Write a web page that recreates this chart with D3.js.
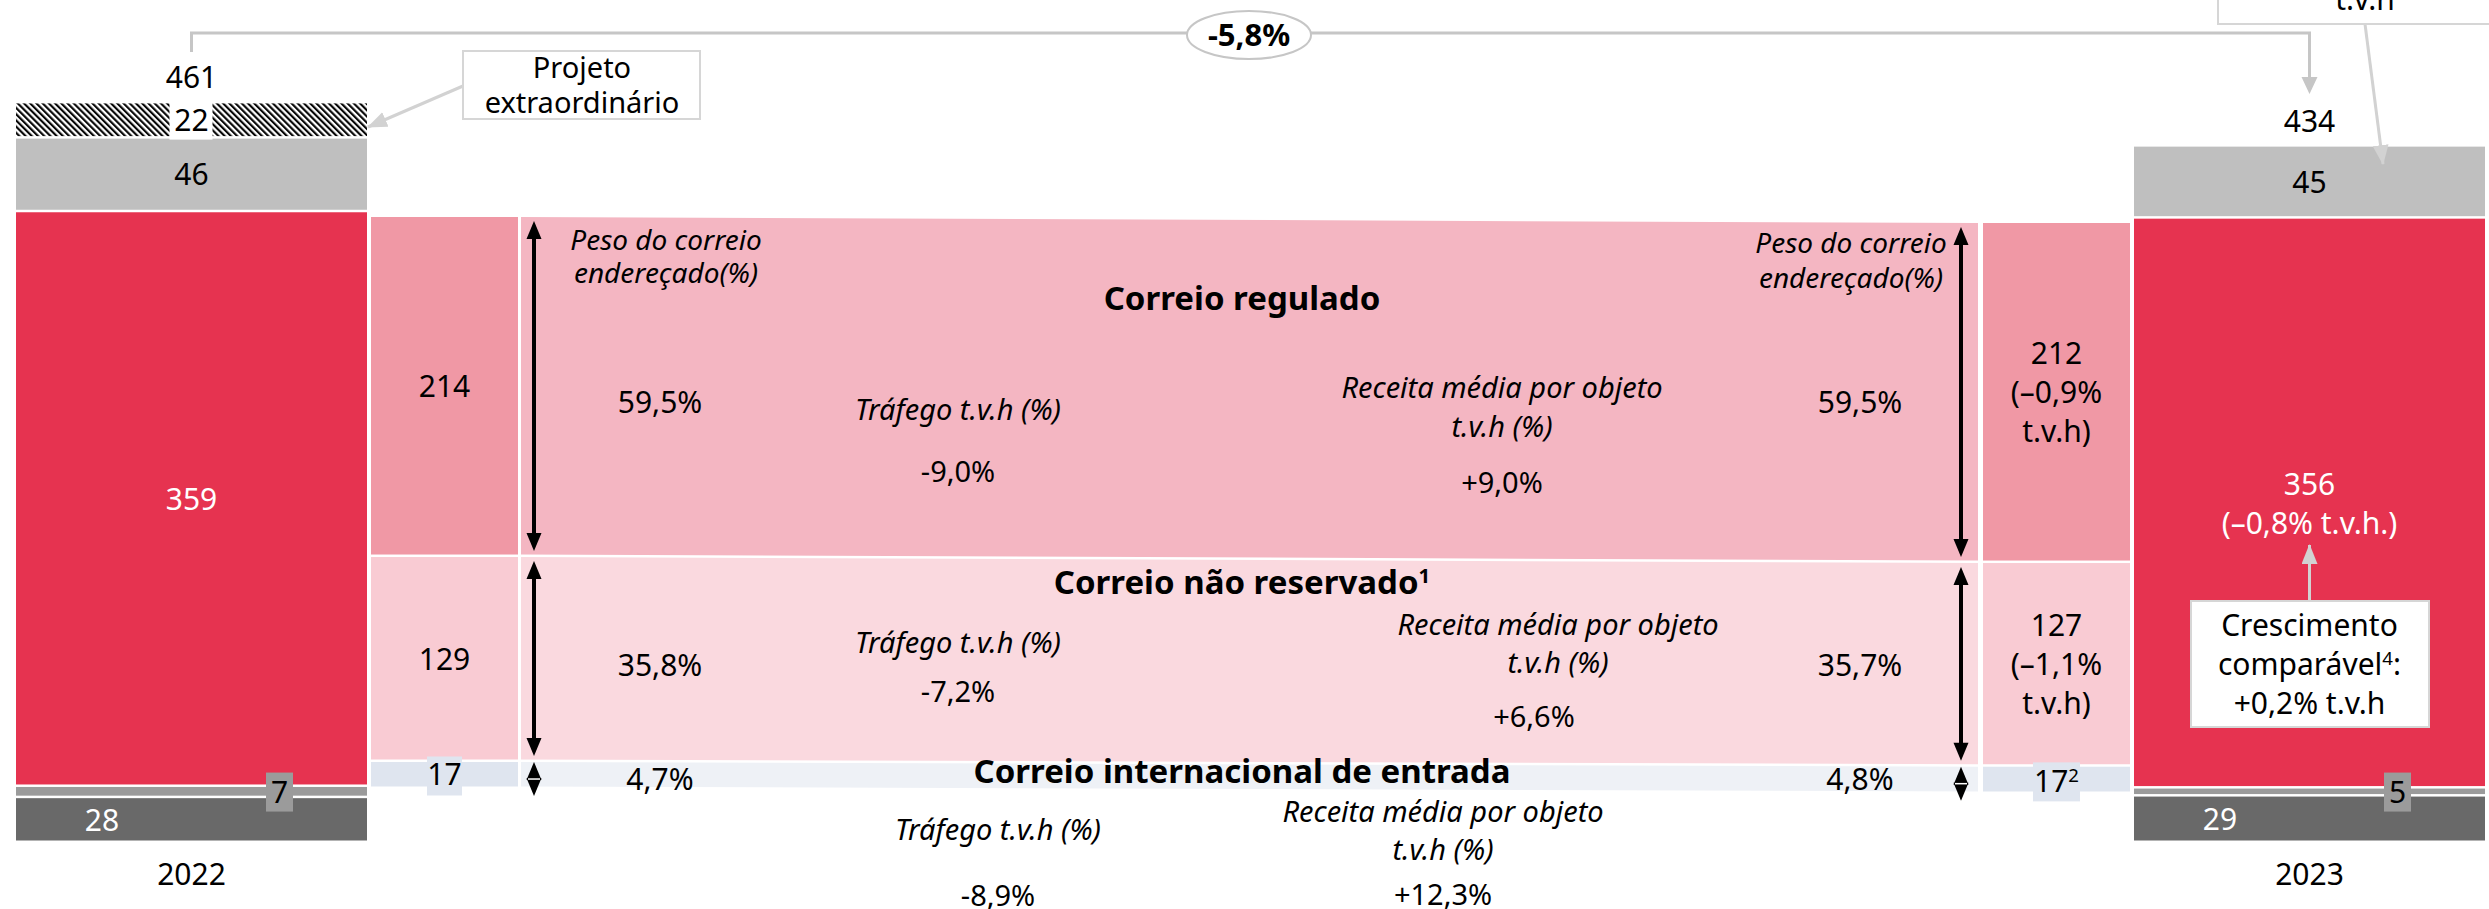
<!DOCTYPE html>
<html>
<head>
<meta charset="utf-8">
<script src="https://cdn.jsdelivr.net/npm/d3@7"></script>
<style>
  body { margin: 0; background: #fff; }
  svg { display: block; font-family: 'Noto Sans', 'Open Sans', sans-serif; }
</style>
</head>
<body>
<svg id="chart"></svg>
<script>
// values
var years = ["2022", "2023"];
var totals = [461, 434];
var totalChange = "-5,8%";

// stacks, bottom to top
var segNames = ["Outros", "Outros 2", "Correio", "Expresso", "Projeto extraordinário"];
var seg2022 = [28, 7, 359, 46, 22];
var seg2023 = [29, 5, 356, 45, 0];
var correio2023Change = "(–0,8% t.v.h.)";
var comparableGrowth = ["Crescimento", "comparável", "+0,2% t.v.h"];

// mail breakdown, bottom to top
var mailCats = ["Correio internacional de entrada", "Correio não reservado", "Correio regulado"];
var mailNotes = ["", "1", ""];
var mail2022 = [17, 129, 214];
var mail2023 = [17, 127, 212];
var mail2023Notes = ["2", "", ""];
var mail2023Change = ["", "–1,1%", "–0,9%"];
var weight2022 = ["4,7%", "35,8%", "59,5%"];
var weight2023 = ["4,8%", "35,7%", "59,5%"];
var traffic = ["-8,9%", "-7,2%", "-9,0%"];
var revenue = ["+12,3%", "+6,6%", "+9,0%"];

var W = 2489, H = 909;
var svg = d3.select("#chart").attr("width", W).attr("height", H);
var defs = svg.append("defs");

// layout
var stackX = { "2022": [16, 367], "2023": [2134, 2485] };
var colL = [371, 518], band = [521, 1978], colR = [1983, 2130];
var gap = 2.5;
var segFill = ["#696969", "#9b9b9b", "#e63350", "#bfbfbf", "url(#hatch)"];
var segText = ["#fff", "#000", "#fff", "#000", "#000"];
var colFill = ["#dfe5ef", "#f9cbd3", "#f098a5"];
var bandFill = ["#eef1f6", "#fad9df", "#f4b6c2"];
var lineGray = "#c6c6c6", boxGray = "#d6d6d6";

var y = d3.scaleLinear().domain([0, totals[0]]).range([842, 104]);
var yL = d3.scaleLinear().domain([0, d3.sum(mail2022)]).range([788, 216]);
var yR = d3.scaleLinear().domain([0, d3.sum(mail2023)]).range([793, 222]);
var bt = d3.scaleLinear().domain(band).range([0, 1]);

// patterns / markers
var pat = defs.append("pattern").attr("id", "hatch").attr("patternUnits", "userSpaceOnUse")
  .attr("width", 4.4).attr("height", 4.4).attr("patternTransform", "rotate(-45)");
pat.append("rect").attr("width", 4.4).attr("height", 4.4).attr("fill", "#fff");
pat.append("line").attr("x1", 1.1).attr("x2", 1.1).attr("y1", 0).attr("y2", 4.4)
  .attr("stroke", "#000").attr("stroke-width", 2.1);

defs.append("marker").attr("id", "tip").attr("markerUnits", "userSpaceOnUse")
  .attr("markerWidth", 20).attr("markerHeight", 16).attr("refX", 19).attr("refY", 8)
  .attr("orient", "auto")
  .append("path").attr("d", "M0,0 L20,8 L0,16 Z").attr("fill", "#d2d2d2");

function stackSegs(vals) {
  var c = d3.cumsum(vals);
  return vals.map(function (v, i) { return { i: i, v: v, y0: c[i] - v, y1: c[i] } });
}

function txt(g, x, yb, s, size, opts) {
  opts = opts || {};
  return g.append("text").attr("x", x).attr("y", yb)
    .attr("text-anchor", opts.anchor || "middle")
    .attr("font-size", size)
    .attr("font-style", opts.italic ? "italic" : null)
    .attr("font-weight", opts.bold ? "bold" : null)
    .attr("fill", opts.fill || "#000")
    .text(s);
}

function sup(t, s) {
  t.append("tspan").attr("font-size", "0.62em").attr("dy", "-0.55em").text(s);
}

// ---------- outer stacks ----------
var gStack = svg.append("g");
years.forEach(function (yr, k) {
  var vals = k === 0 ? seg2022 : seg2023;
  var xr = stackX[yr];
  var cx = (xr[0] + xr[1]) / 2;
  var segs = stackSegs(vals).filter(function (d) { return d.v > 0 });

  gStack.append("g").selectAll("rect").data(segs).join("rect")
    .attr("x", xr[0]).attr("width", xr[1] - xr[0])
    .attr("y", function (d) { return y(d.y1) + 1 })
    .attr("height", function (d) { return y(d.y0) - y(d.y1) - gap })
    .attr("fill", function (d) { return segFill[d.i] });

  segs.forEach(function (d) {
    var mid = (y(d.y0) + y(d.y1)) / 2;
    if (d.i === 0) {
      txt(gStack, xr[0] + 86, mid + 11, d.v, 30, { fill: segText[0] });
    } else if (d.i === 1) {
      gStack.append("rect").attr("x", xr[0] + 250).attr("y", mid - 19)
        .attr("width", 27).attr("height", 39).attr("fill", "#9b9b9b");
      txt(gStack, xr[0] + 263.5, mid + 11, d.v, 30);
    } else if (d.i === 2) {
      if (k === 0) {
        txt(gStack, cx, mid + 11, d.v, 30, { fill: "#fff" });
      } else {
        txt(gStack, cx, mid - 8, d.v, 30, { fill: "#fff" });
        txt(gStack, cx, mid + 31, correio2023Change, 30, { fill: "#fff" });
      }
    } else if (d.i === 3) {
      txt(gStack, cx, mid + 11, d.v, 30);
    } else {
      gStack.append("rect").attr("x", cx - 22).attr("y", y(d.y1))
        .attr("width", 43).attr("height", y(d.y0) - y(d.y1) + 2).attr("fill", "#fff");
      txt(gStack, cx, mid + 11, d.v, 30);
    }
  });

  var top = y(d3.sum(vals));
  txt(gStack, cx, top - 14, totals[k], 30);
  txt(gStack, cx, 885, yr, 30);
});

// ---------- mail breakdown ----------
var gMid = svg.append("g");
var segL = stackSegs(mail2022), segR = stackSegs(mail2023);

gMid.selectAll("polygon").data(segL).join("polygon")
  .attr("fill", function (d) { return bandFill[d.i] })
  .attr("points", function (d) {
    var r = segR[d.i];
    return [[band[0], yL(d.y1) + 1], [band[1], yR(r.y1) + 1],
            [band[1], yR(r.y0) - gap + 1], [band[0], yL(d.y0) - gap + 1]].join(" ");
  });

gMid.append("g").selectAll("rect").data(segL).join("rect")
  .attr("x", colL[0]).attr("width", colL[1] - colL[0])
  .attr("y", function (d) { return yL(d.y1) + 1 })
  .attr("height", function (d) { return yL(d.y0) - yL(d.y1) - gap })
  .attr("fill", function (d) { return colFill[d.i] });

gMid.append("g").selectAll("rect").data(segR).join("rect")
  .attr("x", colR[0]).attr("width", colR[1] - colR[0])
  .attr("y", function (d) { return yR(d.y1) + 1 })
  .attr("height", function (d) { return yR(d.y0) - yR(d.y1) - gap })
  .attr("fill", function (d) { return colFill[d.i] });

var cL = (colL[0] + colL[1]) / 2, cR = (colR[0] + colR[1]) / 2;
segL.forEach(function (d) {
  var mid = (yL(d.y0) + yL(d.y1)) / 2;
  if (d.i === 0) {
    gMid.append("rect").attr("x", cL - 17.5).attr("y", mid - 18).attr("width", 35).attr("height", 39)
      .attr("fill", colFill[0]);
  }
  txt(gMid, cL, mid + 11, d.v, 30);
});
segR.forEach(function (d) {
  var mid = (yR(d.y0) + yR(d.y1)) / 2;
  if (d.i === 0) {
    gMid.append("rect").attr("x", cR - 23.5).attr("y", mid - 17).attr("width", 47).attr("height", 39)
      .attr("fill", colFill[0]);
    sup(txt(gMid, cR, mid + 13, d.v, 30), mail2023Notes[0]);
  } else {
    txt(gMid, cR, mid - 28, d.v, 30);
    txt(gMid, cR, mid + 11, "(" + mail2023Change[d.i], 30);
    txt(gMid, cR, mid + 50, "t.v.h)", 30);
  }
});

// double arrows
function edgeAt(x, d) {
  var r = segR[d.i], t = bt(x);
  return {
    top: yL(d.y1) + (yR(r.y1) - yL(d.y1)) * t,
    bot: yL(d.y0) + (yR(r.y0) - yL(d.y0)) * t
  };
}
function head(x, tipY, dir) {
  gMid.append("path").attr("fill", "#000")
    .attr("d", "M" + x + "," + tipY + " L" + (x + 7.5) + "," + (tipY + dir * 18) + " L" + (x - 7.5) + "," + (tipY + dir * 18) + " Z");
}
[534, 1961].forEach(function (ax) {
  segL.forEach(function (d) {
    var e = edgeAt(ax, d);
    if (d.i === 0) {
      head(ax, e.top + 1, 1);
      head(ax, e.top + 35, -1);
      gMid.append("line").attr("x1", ax - 6).attr("x2", ax + 6).attr("y1", e.top + 18).attr("y2", e.top + 18)
        .attr("stroke", "#fff").attr("stroke-width", 1.5);
    } else {
      var t0 = e.top + 5, t1 = e.bot - 5;
      gMid.append("line").attr("x1", ax).attr("x2", ax).attr("y1", t0 + 14).attr("y2", t1 - 14)
        .attr("stroke", "#000").attr("stroke-width", 4);
      head(ax, t0, 1);
      head(ax, t1, -1);
    }
  });
});

// texts inside the bands
var bandText = [
  { title: 783, w: 790, trafX: 998, trafY: [840, 906], revX: 1443, revY: [822, 860, 905], revValX: 1443 },
  { title: 594, w: 676, trafX: 958, trafY: [653, 702], revX: 1558, revY: [635, 673, 727], revValX: 1534 },
  { title: 310, w: 413, trafX: 958, trafY: [420, 482], revX: 1502, revY: [398, 437, 493], revValX: 1502 }
];
bandText.forEach(function (b, i) {
  var t = txt(gMid, 1242, b.title, mailCats[i], 33, { bold: true });
  if (mailNotes[i]) sup(t, mailNotes[i]);
  txt(gMid, 660, b.w, weight2022[i], 30);
  txt(gMid, 1860, b.w, weight2023[i], 30);
  txt(gMid, b.trafX, b.trafY[0], "Tráfego t.v.h (%)", 29, { italic: true });
  txt(gMid, b.trafX, b.trafY[1], traffic[i], 29);
  txt(gMid, b.revX, b.revY[0], "Receita média por objeto", 29, { italic: true });
  txt(gMid, b.revX, b.revY[1], "t.v.h (%)", 29, { italic: true });
  txt(gMid, b.revValX, b.revY[2], revenue[i], 29);
});
txt(gMid, 666, 250, "Peso do correio", 28, { italic: true });
txt(gMid, 666, 283, "endereçado(%)", 28, { italic: true });
txt(gMid, 1851, 253, "Peso do correio", 28, { italic: true });
txt(gMid, 1851, 288, "endereçado(%)", 28, { italic: true });

// ---------- annotations ----------
var gAnn = svg.append("g");
var lx = (stackX["2022"][0] + stackX["2022"][1]) / 2, rx = (stackX["2023"][0] + stackX["2023"][1]) / 2;
gAnn.append("path").attr("fill", "none").attr("stroke", lineGray).attr("stroke-width", 3)
  .attr("d", "M" + lx + ",52 V33 H" + rx + " V80");
gAnn.append("path").attr("fill", "#c6c6c6")
  .attr("d", "M" + rx + ",94 L" + (rx + 8) + ",77 L" + (rx - 8) + ",77 Z");
gAnn.append("ellipse").attr("cx", 1249).attr("cy", 35).attr("rx", 62).attr("ry", 24)
  .attr("fill", "#fff").attr("stroke", lineGray).attr("stroke-width", 2);
txt(gAnn, 1249, 46, totalChange, 31, { bold: true });

// projeto extraordinario
gAnn.append("line").attr("x1", 463).attr("y1", 86).attr("x2", 368).attr("y2", 127)
  .attr("stroke", "#d2d2d2").attr("stroke-width", 3).attr("marker-end", "url(#tip)");
gAnn.append("rect").attr("x", 463).attr("y", 51).attr("width", 237).attr("height", 68)
  .attr("fill", "#fff").attr("stroke", boxGray).attr("stroke-width", 2);
txt(gAnn, 582, 78, "Projeto", 29);
txt(gAnn, 582, 113, "extraordinário", 29);

// top right box (cropped)
gAnn.append("line").attr("x1", 2365).attr("y1", 24).attr("x2", 2383).attr("y2", 164)
  .attr("stroke", "#d2d2d2").attr("stroke-width", 3).attr("marker-end", "url(#tip)");
gAnn.append("rect").attr("x", 2218).attr("y", -60).attr("width", 320).attr("height", 84)
  .attr("fill", "#fff").attr("stroke", boxGray).attr("stroke-width", 2);
txt(gAnn, 2365, 10, "t.v.h", 30);

// comparable growth callout
gAnn.append("line").attr("x1", rx).attr("y1", 601).attr("x2", rx).attr("y2", 545)
  .attr("stroke", "#d2d2d2").attr("stroke-width", 3).attr("marker-end", "url(#tip)");
gAnn.append("rect").attr("x", 2191).attr("y", 601).attr("width", 238).attr("height", 126)
  .attr("fill", "#fff").attr("stroke", boxGray).attr("stroke-width", 2);
txt(gAnn, rx, 636, comparableGrowth[0], 30);
var cg = txt(gAnn, rx, 675, comparableGrowth[1], 30);
sup(cg, "4");
cg.append("tspan").attr("dy", "0.34em").text(":");
txt(gAnn, rx, 714, comparableGrowth[2], 30);
</script>
</body>
</html>
